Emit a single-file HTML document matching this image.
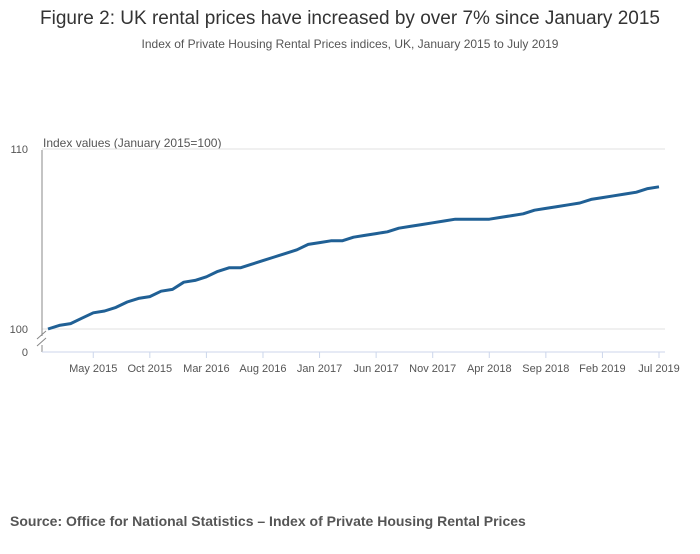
<!DOCTYPE html>
<html><head><meta charset="utf-8">
<style>
body{margin:0;background:#fff;font-family:"Liberation Sans",sans-serif;}
svg text{font-family:"Liberation Sans",sans-serif;}
</style></head>
<body>
<svg width="700" height="549" xmlns="http://www.w3.org/2000/svg">
<text x="350" y="24" text-anchor="middle" font-size="19" fill="#333">Figure 2: UK rental prices have increased by over 7% since January 2015</text>
<text x="350" y="48" text-anchor="middle" font-size="12" fill="#555">Index of Private Housing Rental Prices indices, UK, January 2015 to July 2019</text>
<text x="43" y="147" font-size="12" fill="#555">Index values (January 2015=100)</text>
<g id="grid"></g>
<g id="xaxis"></g>
<line x1="42" y1="150" x2="42" y2="336" stroke="#888"/>
<line x1="42" y1="345" x2="42" y2="352" stroke="#888"/>
<path d="M37,339 L46,331 M37,346 L46,338" stroke="#888" fill="none"/>
<line x1="42" y1="352" x2="665" y2="352" stroke="#ccd6eb"/>
<text x="28" y="356" text-anchor="end" font-size="11" fill="#555">0</text>
<path id="series" fill="none" stroke="#206095" stroke-width="3" stroke-linejoin="round"/>
<text x="10" y="526" font-size="14" font-weight="bold" fill="#555">Source: Office for National Statistics – Index of Private Housing Rental Prices</text>
</svg>
<script>
const values=[100.0,100.2,100.3,100.6,100.9,101.0,101.2,101.5,101.7,101.8,102.1,102.2,
102.6,102.7,102.9,103.2,103.4,103.4,103.6,103.8,104.0,104.2,104.4,104.7,
104.8,104.9,104.9,105.1,105.2,105.3,105.4,105.6,105.7,105.8,105.9,106.0,
106.1,106.1,106.1,106.1,106.2,106.3,106.4,106.6,106.7,106.8,106.9,107.0,
107.2,107.3,107.4,107.5,107.6,107.8,107.9];
const tickMonths=[4,9,14,19,24,29,34,39,44,49,54];
const tickLabels=["May 2015","Oct 2015","Mar 2016","Aug 2016","Jan 2017","Jun 2017","Nov 2017","Apr 2018","Sep 2018","Feb 2019","Jul 2019"];
const yTicks=[100,110];
const NS="http://www.w3.org/2000/svg";
const x=i=>48+i*(659-48)/54;
const y=v=>329-(v-100)*18;
const grid=document.getElementById('grid');
yTicks.forEach(t=>{
  const l=document.createElementNS(NS,'line');
  
  
  l.setAttribute('x1',42);l.setAttribute('x2',665);l.setAttribute('y1',y(t));l.setAttribute('y2',y(t));
  l.setAttribute('stroke','#e0e0e0');grid.appendChild(l);
  const tx=document.createElementNS(NS,'text');
  
  
  tx.setAttribute('x',28);tx.setAttribute('y',y(t)+4);tx.setAttribute('text-anchor','end');
  tx.setAttribute('font-size','11');tx.setAttribute('fill','#555');tx.textContent=t;grid.appendChild(tx);
});
const xa=document.getElementById('xaxis');
tickMonths.forEach((m,k)=>{
  const l=document.createElementNS(NS,'line');
  
  
  l.setAttribute('x1',x(m));l.setAttribute('x2',x(m));l.setAttribute('y1',352);l.setAttribute('y2',358);
  l.setAttribute('stroke','#ccd6eb');xa.appendChild(l);
  const tx=document.createElementNS(NS,'text');
  
  
  tx.setAttribute('x',x(m));tx.setAttribute('y',372);tx.setAttribute('text-anchor','middle');
  tx.setAttribute('font-size','11');tx.setAttribute('fill','#555');tx.textContent=tickLabels[k];xa.appendChild(tx);
});
document.getElementById('series').setAttribute('d',values.map((v,i)=>(i?'L':'M')+x(i).toFixed(1)+','+y(v).toFixed(1)).join(' '));
</script>
</body></html>
